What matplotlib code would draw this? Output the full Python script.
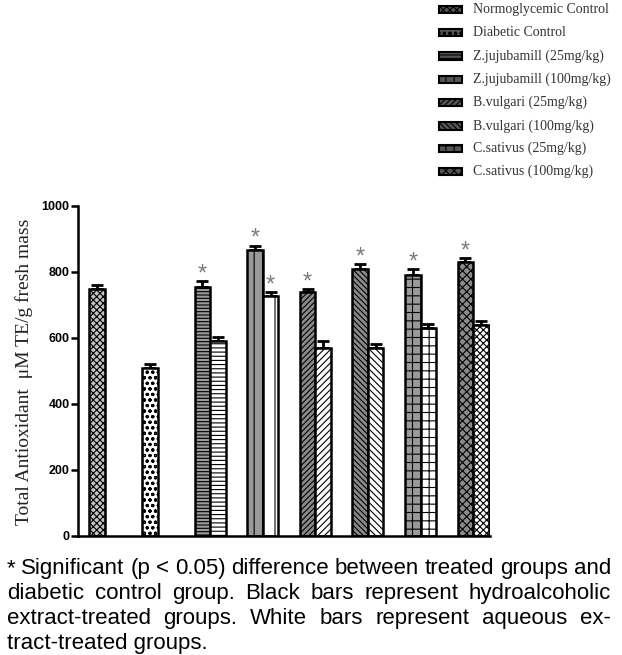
import matplotlib
matplotlib.use("Agg")
import matplotlib.pyplot as plt
from matplotlib.patches import Rectangle
import numpy as np

# ---------------- data ----------------
groups = ["Normoglycemic Control", "Diabetic Control",
          "Z.jujubamill (25mg/kg)", "Z.jujubamill (100mg/kg)",
          "B.vulgari (25mg/kg)", "B.vulgari (100mg/kg)",
          "C.sativus (25mg/kg)", "C.sativus (100mg/kg)"]
hydro_vals = [750, 510, 755, 868, 740, 810, 790, 830]
hydro_err = [10, 10, 17, 12, 9, 14, 20, 12]
aqueous_vals = [np.nan, np.nan, 590, 728, 570, 570, 630, 640]
aqueous_err = [0, 0, 12, 10, 20, 13, 12, 13]
hydro_sig = [False, False, True, True, True, True, True, True]
aqueous_sig = [False, False, False, True, False, False, False, False]
yticks = [0, 200, 400, 600, 800, 1000]
ylabel = "Total Antioxidant  \u03bcM TE/g fresh mass"
caption_lines = [
    "* Significant (p < 0.05) difference between treated groups and",
    "diabetic control group. Black bars represent hydroalcoholic",
    "extract-treated groups. White bars represent aqueous ex-",
    "tract-treated groups.",
]

# ---------------- style ----------------
hatches = ["xxxxx", "ooo", "-----", "||", "//////", "\\\\\\\\\\\\", "++", "xxxx"]
hatches_w = [None, None, "----", "|", "/////", "\\\\\\\\\\", "++", "xxxxx"]
hydro_face = ["#c4c4c4", "#ffffff", "#9a9a9a", "#9a9a9a", "#8a8a8a", "#8a8a8a", "#9a9a9a", "#8a8a8a"]

plt.rcParams["hatch.linewidth"] = 0.8
W, H = 622, 655
fig = plt.figure(figsize=(W / 100, H / 100), dpi=100)
ax = fig.add_axes([78 / W, (H - 536) / H, (490 - 78) / W, (536 - 206) / H])

x = np.arange(len(groups))
bw = 0.295
star_kw = dict(ha="center", va="baseline", fontsize=17, color="#7a7a7a",
               family="Liberation Sans")

for i in range(len(groups)):
    ax.bar(x[i] - bw / 2, hydro_vals[i], bw, facecolor=hydro_face[i],
           edgecolor="black", linewidth=1.8, hatch=hatches[i], zorder=2)
    ax.errorbar(x[i] - bw / 2, hydro_vals[i], yerr=[[0], [hydro_err[i]]],
                fmt="none", ecolor="black", elinewidth=2, capsize=4.5,
                capthick=2, zorder=1)
    if hydro_sig[i]:
        ax.text(x[i] - bw / 2, hydro_vals[i] + hydro_err[i] + 2, "*", **star_kw)
    if not np.isnan(aqueous_vals[i]):
        ax.bar(x[i] + bw / 2, aqueous_vals[i], bw, facecolor="white",
               edgecolor="black", linewidth=1.8, hatch=hatches_w[i], zorder=2)
        ax.errorbar(x[i] + bw / 2, aqueous_vals[i], yerr=[[0], [aqueous_err[i]]],
                    fmt="none", ecolor="black", elinewidth=2, capsize=4.5,
                    capthick=2, zorder=1)
        if aqueous_sig[i]:
            ax.text(x[i] + bw / 2, aqueous_vals[i] + aqueous_err[i] + 2, "*", **star_kw)

ax.set_xlim(-0.513, 7.32)
ax.set_ylim(0, 1000)
ax.set_xticks([])
ax.set_yticks(yticks)
ax.set_yticklabels([str(t) for t in yticks], fontsize=9, fontweight="bold",
                   family="Liberation Sans")
ax.tick_params(axis="y", length=5, width=1.8, pad=1)
for s in ["top", "right"]:
    ax.spines[s].set_visible(False)
for s in ["left", "bottom"]:
    ax.spines[s].set_linewidth(1.8)

fig.text(24 / W, (H - 372) / H, ylabel, rotation=90, ha="center", va="center",
         fontsize=14, family="Liberation Serif", color="#222222")

# ---------------- legend (manual) ----------------
leg_y = [9.3, 32.7, 56, 79.3, 102.7, 126, 148.3, 171.7]
for i, lab in enumerate(groups):
    yc = leg_y[i]
    fig.patches.append(Rectangle((439 / W, (H - yc - 3.5) / H), 23 / W, 7 / H,
                                 transform=fig.transFigure, facecolor="#555555",
                                 edgecolor="black", linewidth=1.5,
                                 hatch=hatches[i]))
    fig.text(473 / W, (H - yc) / H, lab, ha="left", va="center",
             fontsize=10, family="Liberation Serif", color="#333333")

# ---------------- caption (justified) ----------------
cap_fs = 16
left_px, right_px = 7, 611
baselines = [574, 599, 624, 649]
fig.canvas.draw()
renderer = fig.canvas.get_renderer()
for li, line in enumerate(caption_lines):
    words = line.split(" ")
    ybase = (H - baselines[li]) / H
    if li == len(caption_lines) - 1:
        fig.text(left_px / W, ybase, line, ha="left", va="baseline",
                 fontsize=cap_fs, family="Liberation Sans")
        continue
    tmp = [fig.text(0, 0, w, fontsize=cap_fs, family="Liberation Sans") for w in words]
    widths = [t.get_window_extent(renderer).width for t in tmp]
    for t in tmp:
        t.remove()
    gap = ((right_px - left_px) - sum(widths)) / (len(words) - 1)
    xpos = left_px
    for w, wd in zip(words, widths):
        fig.text(xpos / W, ybase, w, ha="left", va="baseline",
                 fontsize=cap_fs, family="Liberation Sans")
        xpos += wd + gap

fig.savefig("out.png", dpi=100)
